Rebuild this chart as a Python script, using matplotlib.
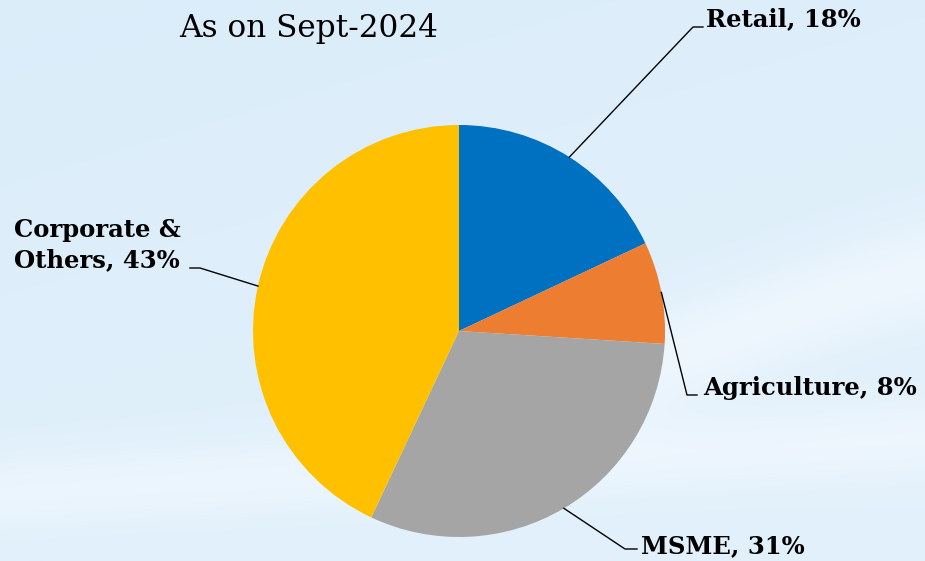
import matplotlib
matplotlib.use("Agg")
import matplotlib.pyplot as plt
import numpy as np

# loan book mix, clockwise from 12 o'clock
segments = ["Retail", "Agriculture", "MSME", "Corporate &\nOthers"]
shares = [18, 8, 31, 43]
colors = ["#0070C0", "#ED7D31", "#A5A5A5", "#FFC000"]
title = "As on Sept-2024"

W, H, DPI = 925, 561, 100
fig = plt.figure(figsize=(W / DPI, H / DPI), dpi=DPI)

# soft blue backdrop with pale sweeping bands
bg = fig.add_axes([0, 0, 1, 1])
yy, xx = np.mgrid[0:1:H * 1j, 0:1:W * 1j]
base = np.array([0.86, 0.93, 0.98])
white = np.array([0.96, 0.98, 1.0])
t = 0.10 * xx + 0.20 * yy
ramp = 1 / (1 + np.exp(-(xx - 0.55) / 0.05))
t += 0.55 * np.exp(-((yy - (0.60 + 0.15 * np.sin(4.0 * xx))) / 0.09) ** 2) * ramp
t += 0.45 * np.exp(-((yy - (0.88 - 0.10 * xx)) / 0.07) ** 2)
t = np.clip(t, 0, 1)[..., None]
bg.imshow(base * (1 - t) + white * t, extent=[0, 1, 0, 1], aspect="auto", origin="upper")
bg.set_axis_off()

# pie axes: radius 1 in data units, centre at (459, 331) px
cx, cy, r = 459, 331, 206
ax = fig.add_axes([(cx - r) / W, (H - cy - r) / H, 2 * r / W, 2 * r / H])
wedges, _ = ax.pie(shares, colors=colors, startangle=90, counterclock=False, radius=1,
                   wedgeprops=dict(linewidth=0))
ax.set_xlim(-1, 1)
ax.set_ylim(-1, 1)
ax.set_axis_off()


def px(x, y):
    """pixel position -> pie data coords"""
    return (x - cx) / r, (cy - y) / r


# (elbow start, elbow end, text pos) in pixels
callouts = [((693, 27), (703, 27), (706, 19)),
            ((687, 395), (697, 395), (703, 388)),
            ((625, 549), (637, 549), (641, 546)),
            ((200, 268), (190, 268), (14, 245))]

for w, share, name, (e0, e1, tp) in zip(wedges, shares, segments, callouts):
    ang = np.deg2rad((w.theta1 + w.theta2) / 2)
    a = (np.cos(ang), np.sin(ang))
    p0, p1 = px(*e0), px(*e1)
    ax.plot([a[0], p0[0], p1[0]], [a[1], p0[1], p1[1]], color="black", lw=1.0,
            clip_on=False)
    tx, ty = px(*tp)
    ax.text(tx, ty, f"{name}, {share}%", ha="left", va="center", fontsize=17.5,
            fontweight="bold", family="DejaVu Serif", linespacing=1.35, clip_on=False)

fig.text(309 / W, 1 - 28 / H, title, ha="center", va="center", fontsize=22.4,
         family="DejaVu Serif")

fig.savefig("out.png", dpi=DPI)
